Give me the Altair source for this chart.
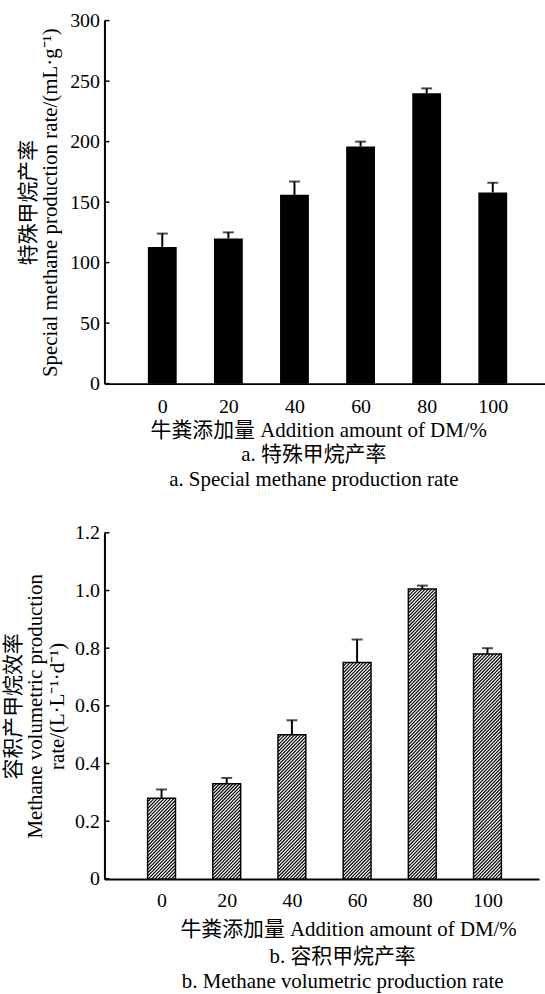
import altair as alt
import pandas as pd

# ---- data ----
dm = [0, 20, 40, 60, 80, 100]
special_rate = [113, 120, 156, 196, 240, 158]
special_err = [11, 5, 11, 4, 4, 8]
vol_rate = [0.28, 0.33, 0.50, 0.75, 1.005, 0.78]
vol_err = [0.03, 0.02, 0.05, 0.08, 0.012, 0.02]
x_ticks = [0, 20, 40, 60, 80, 100]
y_ticks_a = [0, 50, 100, 150, 200, 250, 300]
y_ticks_b = [0, 0.2, 0.4, 0.6, 0.8, 1.0, 1.2]

x_title = "牛粪添加量 Addition amount of DM/%"
y_title_a = ["特殊甲烷产率", "Special methane production rate/(mL·g⁻¹)"]
y_title_b = ["容积产甲烷效率", "Methane volumetric production", "rate/(L·L⁻¹·d⁻¹)"]
caption_a = ["a. 特殊甲烷产率", "a. Special methane production rate"]
caption_b = ["b. 容积甲烷产率", "b. Methane volumetric production rate"]

FONT = "Liberation Serif, Noto Sans CJK SC"
X_DOMAIN = [-16, 114.3]

W_A, H_A = 443, 365
W_B, H_B = 437, 348

dfa = pd.DataFrame({"dm": dm, "v": special_rate, "e": special_err})
dfb = pd.DataFrame({"dm": dm, "v": vol_rate, "e": vol_err})


def panel(df, ymax, y_ticks, y_title, caption, w, h, bar_w, label_pad_x,
          title_pad_x, title_x, title_pad_y, label_expr, cap_dx, cap_off, hatch):
    xscale = alt.Scale(domain=X_DOMAIN, nice=False, zero=False)
    xaxis = alt.Axis(values=x_ticks, title=x_title, ticks=False, tickSize=0,
                     labelPadding=label_pad_x, titlePadding=title_pad_x,
                     titleX=title_x, labelFlush=False)
    yscale = alt.Scale(domain=[0, ymax], nice=False, zero=True)
    yaxis = alt.Axis(values=y_ticks, title=y_title, titleLineHeight=22,
                     labelPadding=5, titlePadding=title_pad_y,
                     labelExpr=label_expr)

    def X(field):
        return alt.X(f"{field}:Q", scale=xscale, axis=xaxis)

    def Y(field):
        return alt.Y(f"{field}:Q", scale=yscale, axis=yaxis)

    base = alt.Chart(df).transform_calculate(hi="datum.v + datum.e")

    layers = []
    if hatch:
        sx = w / (X_DOMAIN[1] - X_DOMAIN[0])
        sy = h / ymax
        S = 3.4
        bg = base.mark_bar(size=bar_w, color="white").encode(x=X("dm"), y=Y("v"))
        lines = (
            alt.Chart(df)
            .transform_calculate(h=f"datum.v * {sy}")
            .transform_calculate(k=f"sequence(0, ceil(({bar_w} + datum.h) / {S}) + 1)")
            .transform_flatten(["k"])
            .transform_calculate(c=f"-datum.h + datum.k * {S}")
            .transform_calculate(u0="max(0, datum.c)")
            .transform_calculate(u1=f"min({bar_w}, datum.h + datum.c)")
            .transform_filter("datum.u1 > datum.u0")
            .transform_calculate(xa=f"datum.dm + (datum.u0 - {bar_w / 2}) / {sx}")
            .transform_calculate(xb=f"datum.dm + (datum.u1 - {bar_w / 2}) / {sx}")
            .transform_calculate(ya=f"(datum.u0 - datum.c) / {sy}")
            .transform_calculate(yb=f"(datum.u1 - datum.c) / {sy}")
            .mark_rule(color="black", strokeWidth=1.2)
            .encode(x=X("xa"), x2="xb:Q", y=Y("ya"), y2="yb:Q")
        )
        outline = base.mark_bar(size=bar_w, fill="white", fillOpacity=0,
                                stroke="black", strokeWidth=1.5).encode(
            x=X("dm"), y=Y("v"))
        layers += [bg, lines, outline]
    else:
        bars = base.mark_bar(size=bar_w, color="black").encode(x=X("dm"), y=Y("v"))
        layers.append(bars)

    err = base.mark_rule(color="black", strokeWidth=2).encode(
        x=X("dm"), y=Y("v"), y2="hi:Q")
    cap = base.mark_tick(orient="horizontal", size=11, thickness=2,
                         color="black").encode(x=X("dm"), y=Y("hi"))
    inward = alt.Chart(pd.DataFrame({"t": y_ticks})).mark_rule(
        color="black", strokeWidth=1.5
    ).encode(y=Y("t"), x=alt.value(0), x2=alt.value(5))
    layers += [err, cap, inward]

    return alt.layer(*layers).properties(
        width=w,
        height=h,
        title=alt.TitleParams(text=caption, orient="bottom", font=FONT,
                              fontSize=21, fontWeight="normal", lineHeight=25,
                              offset=cap_off, anchor="middle", color="black",
                              dx=cap_dx),
    )


chart_a = panel(dfa, 300, y_ticks_a, y_title_a, caption_a, W_A, H_A, 29,
                13, 3, 215, 9, "datum.label", -11, 4, hatch=False)
chart_b = panel(dfb, 1.2, y_ticks_b, y_title_b, caption_b, W_B, H_B, 28,
                12, 8, 245, 7,
                "datum.value == 0 ? '0' : format(datum.value, '.1f')", 21, 7,
                hatch=True)

chart = (
    alt.vconcat(chart_a, chart_b, spacing=33)
    .properties(padding={"left": 3, "top": 8, "right": 0, "bottom": 0},
                background="white")
    .configure_view(stroke=None)
    .configure_axis(
        labelFont=FONT, labelFontSize=20, labelColor="black",
        titleFont=FONT, titleFontSize=21, titleFontWeight="normal",
        titleColor="black", domainColor="black", domainWidth=2,
        grid=False, ticks=False,
    )
)

chart.save("out.html", embed_options={"renderer": "svg", "actions": False})
